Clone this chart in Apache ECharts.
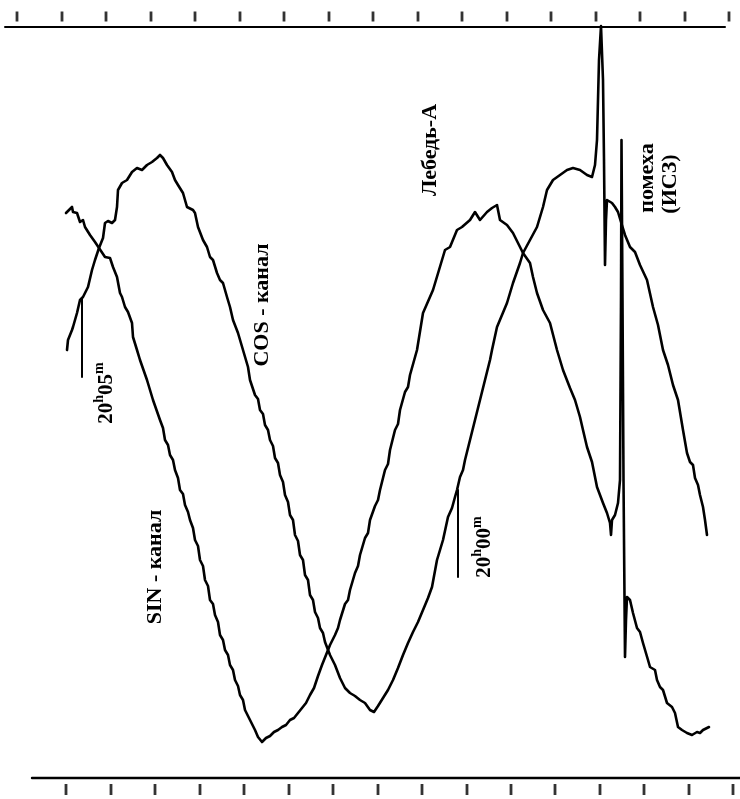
<!DOCTYPE html>
<html><head><meta charset="utf-8">
<script src="https://cdn.jsdelivr.net/npm/echarts@6/dist/echarts.min.js"></script>
<style>html,body{margin:0;padding:0;background:#fff}#c{width:740px;height:799px}</style>
</head><body><div id="c"></div>
<script>
// Recording in figure units (horizontal = time axis, vertical = channel output, downward)
const sinX = [66,72,73,77,80,83,85,90,95,99,105,110,113,117,120,122,125,128,132,133,137,140,147,153,160,163,165,168,170,173,175,178,180,183,185,188,190,193,195,198,200,203,205,208,210,213,215,218,220,223,225,228,230,233,235,238,240,243,245,250,255,258,262,266,270,274,278,282,286,290,294,298,302,306,310,314,318,322,326,330,335,338,340,345,348,350,355,358,360,365,368,370,375,378,380,385,388,390,395,398,400,405,408,410,417,423,433,445,450,457,462,470,475,480,487,492,497,500,507,513,523,530,533,537,543,550,557,563,570,575,580,583,587,592,597,603,607,610,611,612,615,618,620,621,621.5,622.5,623.5,625,626,627,630,633,637,640,643,648,650,655,657,660,663,667,672,675,678,682,687,692,697,700,703,707,709];
const sinY = [213,207,212,213,222,220,227,235,242,248,257,258,267,277,293,297,307,312,323,337,350,360,380,400,420,428,440,445,455,460,470,478,490,494,505,512,520,528,540,546,560,566,580,586,600,604,615,622,635,640,650,655,665,670,680,686,695,700,710,720,730,737,742,738,736,732,730,727,725,720,718,713,708,703,695,688,676,665,655,645,635,628,620,604,600,590,573,566,555,538,533,520,506,500,490,470,464,450,430,424,410,392,387,375,350,313,290,250,247,230,227,220,212,220,212,208,205,220,225,233,253,263,277,293,310,323,350,370,388,400,417,430,447,462,487,503,513,523,535,520,515,503,480,300,140,300,480,657,620,597,600,613,628,632,643,660,667,670,680,687,690,703,707,713,727,730,733,735,732,733,730,728,727];
const cosX = [67,68,72,73,77,80,83,88,92,95,99,103,105,108,112,115,117,118,122,127,132,137,142,147,152,157,160,163,167,172,175,178,183,187,193,195,198,203,207,210,213,217,220,223,227,230,233,238,243,248,250,255,258,260,263,265,268,270,273,275,278,280,283,285,288,290,293,295,298,300,303,305,308,310,313,315,318,320,323,325,330,335,340,345,350,355,360,365,370,374,378,383,388,393,398,403,408,413,418,423,428,432,437,443,448,452,455,457,460,463,465,470,475,480,485,490,492,497,507,513,520,523,530,537,543,547,553,560,567,573,580,587,592,595,597,599,601,603,604,605,606,607,609,612,615,618,621,625,630,635,640,647,653,658,663,668,673,678,683,687,690,693,695,698,700,703,705,707];
const cosY = [350,340,330,327,313,300,297,287,270,260,248,238,223,221,223,220,207,190,183,180,172,168,170,165,162,158,155,158,165,172,180,185,193,207,210,213,227,240,247,257,260,273,280,283,297,307,320,333,350,367,380,395,399,410,414,425,430,440,446,458,463,475,482,495,502,515,520,535,541,555,560,575,580,595,600,612,618,628,633,642,655,665,678,688,693,696,700,703,710,712,706,698,690,680,668,655,643,632,622,610,598,587,560,540,517,508,497,490,477,470,460,440,420,400,380,360,350,327,303,283,263,253,240,227,207,190,180,175,170,168,170,175,177,165,140,60,26,80,160,265,220,200,198,203,207,212,222,235,247,252,265,280,307,325,350,365,385,400,430,453,462,465,478,485,495,507,520,535];
// Scale rules and their tick marks (figure units along the time axis)
const topRule = [5, 725];
const bottomRule = [32, 740];
const topTicks = [17,62,106,151,195,240,284,329,373,418,462,507,551,596,640,685,729];
const bottomTicks = [66,111,155,200,244,289,333,378,422,467,511,555,600,644,689,733];
// Time marks: x and the vertical extent of each marker
const mark2005 = {x: 82, y0: 298, y1: 377};
const mark2000 = {x: 458, y0: 490, y1: 577};

const zip = (xs, ys) => xs.map((x, i) => [x, ys[i]]);
const black = '#000';
const lineS = (data, w) => ({type:'line', data, showSymbol:false, symbol:'none', silent:true,
  lineStyle:{color:black, width:w, join:'round', cap:'round'}, animation:false});
const tickS = (xs, y, h) => ({type:'scatter', data: xs.map(x => [x, y]), symbol:'rect',
  symbolSize:[2.8, h], itemStyle:{color:black}, silent:true, animation:false});

const FF = '"Liberation Serif", "Times New Roman", serif';
const plain = (text, x, y) => ({type:'text', x, y, rotation: Math.PI/2, silent:true,
  style:{text, fill:black, font:'bold 22px ' + FF, align:'center', verticalAlign:'middle',
         textAlign:'center', textVerticalAlign:'middle'}});
const timeLabel = (mm, x, y) => ({type:'text', x, y, rotation: Math.PI/2, silent:true,
  style:{text:'{a|20}{s|h}{a|' + mm + '}{s|m}', fill:black, align:'center', verticalAlign:'middle',
    textAlign:'center', textVerticalAlign:'middle',
    rich:{a:{fontSize:21, fontWeight:'bold', fontFamily:FF, lineHeight:30, fill:black},
          s:{fontSize:14, fontWeight:'bold', fontFamily:FF, verticalAlign:'top', fill:black}}}});

const chart = echarts.init(document.getElementById('c'), null, {renderer:'canvas'});
chart.setOption({
  animation:false,
  backgroundColor:'#fff',
  grid:{left:0, right:0, top:0, bottom:0},
  xAxis:{type:'value', min:0, max:740, show:false},
  yAxis:{type:'value', min:0, max:799, inverse:true, show:false},
  series:[
    lineS(zip(sinX, sinY), 2.6),
    lineS(zip(cosX, cosY), 2.6),
    lineS([[topRule[0], 27], [topRule[1], 27]], 2),
    lineS([[bottomRule[0], 778], [bottomRule[1], 778]], 2.4),
    tickS(topTicks, 16.5, 10),
    tickS(bottomTicks, 789.5, 11),
    lineS([[mark2005.x, mark2005.y0], [mark2005.x, mark2005.y1]], 2),
    lineS([[mark2000.x, mark2000.y0], [mark2000.x, mark2000.y1]], 2)
  ],
  graphic:[
    plain('SIN - канал', 155, 567),
    plain('COS - канал', 262, 305),
    plain('Лебедь-А', 430, 150),
    plain('помеха', 647, 178),
    plain('(ИСЗ)', 670, 184),
    timeLabel('05', 107, 393),
    timeLabel('00', 485, 547)
  ]
});
</script></body></html>
